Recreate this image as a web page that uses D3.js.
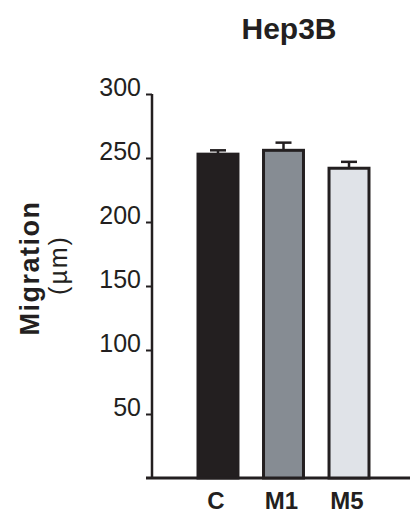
<!DOCTYPE html>
<html><head><meta charset="utf-8">
<script src="https://cdn.jsdelivr.net/npm/d3@7"></script>
<style>body{margin:0;background:#fff}svg{display:block}text{font-family:"Liberation Sans",Arial,sans-serif;fill:#231f20}</style>
</head><body>
<script>
const categories = ["C", "M1", "M5"];
const values = [253, 256, 242];
const errors = [3, 6, 5];
const colors = ["#231f20", "#868c93", "#e0e3e8"];
const yTicks = [50, 100, 150, 200, 250, 300];

const W = 413, H = 514;
const svg = d3.select("body").append("svg").attr("width", W).attr("height", H);

const y = d3.scaleLinear().domain([0, 300]).range([478, 94]);
const x = d3.scaleBand().domain(categories).range([165.25, 401.75]).paddingInner(0.39).paddingOuter(0.5);

const ink = "#231f20";
svg.append("line").attr("x1", 146).attr("x2", 410).attr("y1", y(0)).attr("y2", y(0))
  .attr("stroke", ink).attr("stroke-width", 3);

const yAxis = d3.axisLeft(y).tickValues(yTicks).tickSize(6).tickPadding(4).tickFormat(d3.format("d"));
const ga = svg.append("g").attr("transform", "translate(152,0)").call(yAxis);
ga.attr("font-size", 25).attr("font-family", "Liberation Sans, Arial, sans-serif");
ga.select(".domain").attr("stroke", ink).attr("stroke-width", 2.5).attr("d", `M0,${y(300)}V${y(0)}`);
ga.selectAll(".tick line").attr("stroke", ink).attr("stroke-width", 2);
ga.selectAll(".tick text").attr("fill", ink).style("font-size", "25px")
  .attr("dy", null).attr("y", 1).attr("x", -11);

const bars = svg.append("g");
categories.forEach((c, i) => {
  const bx = x(c), bw = x.bandwidth(), cx = bx + bw / 2;
  bars.append("line").attr("x1", cx).attr("x2", cx).attr("y1", y(values[i])).attr("y2", y(values[i] + errors[i]))
    .attr("stroke", ink).attr("stroke-width", 2.5);
  bars.append("line").attr("x1", cx - 8).attr("x2", cx + 8).attr("y1", y(values[i] + errors[i])).attr("y2", y(values[i] + errors[i]))
    .attr("stroke", ink).attr("stroke-width", 2.5);
  bars.append("rect").attr("x", bx).attr("width", bw).attr("y", y(values[i])).attr("height", y(0) - y(values[i]))
    .attr("fill", colors[i]).attr("stroke", ink).attr("stroke-width", 3);
  svg.append("text").attr("x", cx - 2).attr("y", 509).attr("text-anchor", "middle")
    .style("font-size", "24px").attr("font-weight", "bold").text(c);
});

svg.append("text").attr("x", 289).attr("y", 39).attr("text-anchor", "middle")
  .style("font-size", "30px").attr("font-weight", "bold").text("Hep3B");

svg.append("text").attr("transform", "translate(39,268) rotate(-90)").attr("text-anchor", "middle")
  .style("font-size", "27px").attr("font-weight", "bold").attr("letter-spacing", 1.5).text("Migration");
svg.append("text").attr("transform", "translate(67,265) rotate(-90)").attr("text-anchor", "middle")
  .style("font-size", "25px").attr("letter-spacing", 2).text("(µm)");
</script>
</body></html>
